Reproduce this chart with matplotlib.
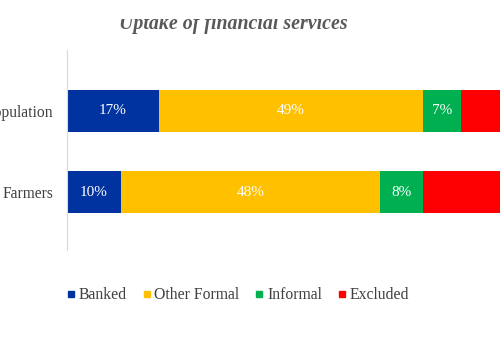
import numpy as np
import matplotlib.pyplot as plt
from matplotlib.lines import Line2D
from matplotlib.transforms import Bbox, TransformedBbox

# data
groups = ['Population', 'Farmers']
series = ['Banked', 'Other Formal', 'Informal', 'Excluded']
banked = [17, 10]
other_formal = [49, 48]
informal = [7, 8]
excluded = [27, 34]
colors = ['#0033A0', '#FFC000', '#00B050', '#FF0000']

plt.rcParams['font.family'] = ['Liberation Serif', 'DejaVu Serif']

fig = plt.figure(figsize=(5.0, 3.44), dpi=100)
W, H = 500, 344
# axes is wider than the figure: the original picture is cropped on the right
ax_w = 540
ax = fig.add_axes([67 / W, 1 - 250 / H, ax_w / W, 200 / H])
visible_max = 100 * (W - 67) / ax_w  # x value at the right edge of the picture

ypos = np.array([1, 0])
left = np.zeros(len(groups))
for name, vals, c in zip(series, [banked, other_formal, informal, excluded], colors):
    vals = np.array(vals)
    ax.barh(ypos, vals, left=left, height=0.52, color=c, label=name)
    for y, l, v in zip(ypos, left, vals):
        if l + v / 2 + 3 < visible_max:
            ax.text(l + v / 2, y, f'{v}%', ha='center', va='center',
                    color='white', fontsize=11)
    left = left + vals

ax.set_xlim(0, 100)
ax.set_ylim(-0.716, 1.753)
ax.set_xticks([])
ax.set_yticks(ypos)
ax.set_yticklabels(groups, fontsize=11.2, color='#404040')
ax.tick_params(axis='y', length=0, pad=10)
for s in ['top', 'right', 'bottom']:
    ax.spines[s].set_visible(False)
ax.spines['left'].set_color('#D9D9D9')

title = fig.text(233 / W, 1 - 29 / H, 'Uptake of financial services', ha='center',
                 va='baseline', fontsize=14.3, fontstyle='italic', fontweight='bold',
                 color='#595959')
# the top of the title is cut off in the original
title.set_clip_box(TransformedBbox(Bbox([[0, 0], [1, 1 - 19 / H]]), fig.transFigure))
title.set_clip_on(True)

handles = [Line2D([], [], marker='s', linestyle='none', markersize=5,
                  markerfacecolor=c, markeredgecolor=c) for c in colors]
fig.legend(handles, series, loc='center', bbox_to_anchor=(236 / W, 1 - 295 / H),
           ncol=4, frameon=False, fontsize=11.3, handletextpad=0.0,
           columnspacing=0.75, handlelength=1.0, labelcolor='#404040')

fig.savefig('out.png', dpi=100)
